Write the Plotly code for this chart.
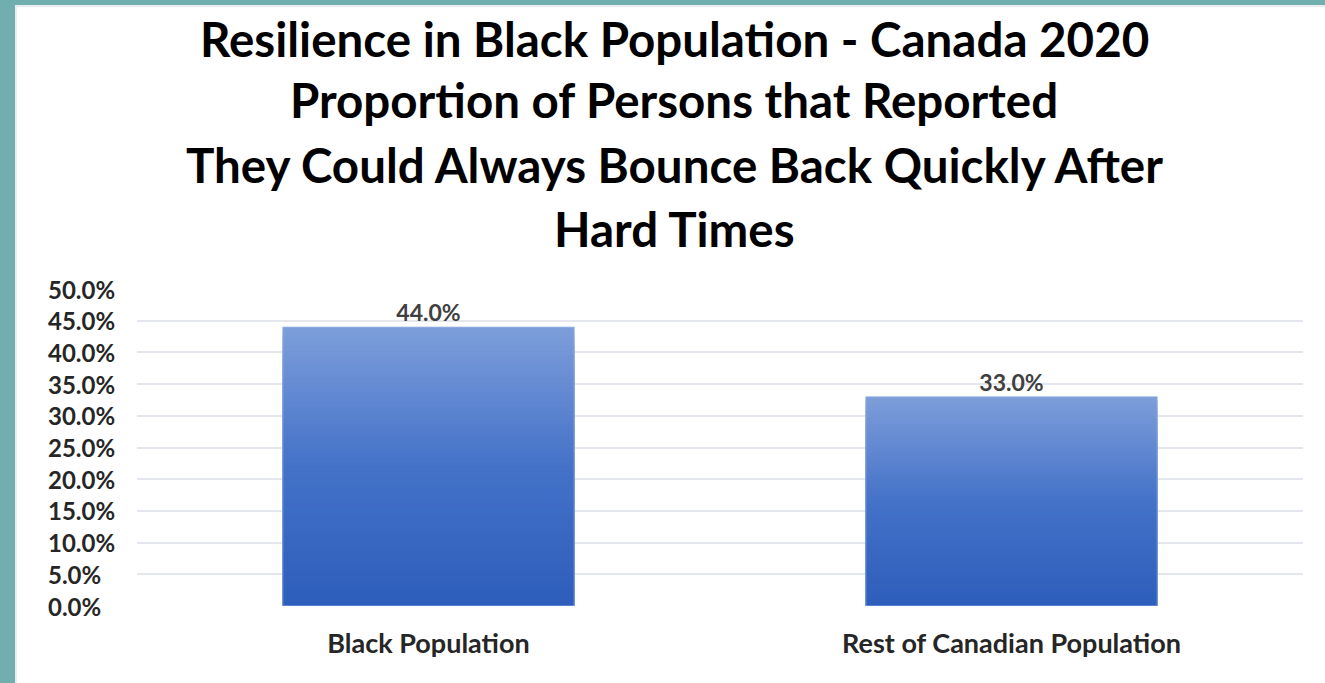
import plotly.graph_objects as go

# ---- data ----
categories = ["Black Population", "Rest of Canadian Population"]
values = [44.0, 33.0]
tick_values = [0, 5, 10, 15, 20, 25, 30, 35, 40, 45, 50]
tick_labels = [f"{v:.1f}%" for v in tick_values]
title_lines = [
    "Resilience in Black Population - Canada 2020",
    "Proportion of Persons that Reported",
    "They Could Always Bounce Back Quickly After",
    "Hard Times",
]

# ---- layout geometry (pixels) ----
W, H = 1325, 683
L, R, T, B = 137, 22, 289, 77
PW, PH = W - L - R, H - T - B

def px_x(p):
    return (p - L) / PW

def px_y(p):
    return (H - B - p) / PH

FONT = "Lato"
TEXT_COLOR = "#262626"

# gradient colours (top -> bottom)
stops = [(0.0, (124, 157, 218)), (0.5, (68, 114, 200)), (1.0, (46, 94, 188))]

def grad(t):
    for (t0, c0), (t1, c1) in zip(stops[:-1], stops[1:]):
        if t0 <= t <= t1:
            f = (t - t0) / (t1 - t0)
            return "rgb(%d,%d,%d)" % tuple(round(a + (b - a) * f) for a, b in zip(c0, c1))
    return "rgb(%d,%d,%d)" % stops[-1][1]

fig = go.Figure()
N = 60
for k in range(N):
    frac = 1 - k / N          # height fraction of this overlay bar
    t = k / (N - 1)           # 0 at top -> 1 at bottom
    fig.add_trace(go.Bar(
        x=categories,
        y=[v * frac for v in values],
        marker=dict(color=grad(t), line=dict(width=0)),
        width=0.5,
        hoverinfo="skip",
        showlegend=False,
    ))

# light outline around bars
fig.add_trace(go.Bar(
    x=categories, y=values, width=0.5,
    marker=dict(color="rgba(0,0,0,0)", line=dict(width=1, color="rgba(160,185,230,0.8)")),
    hoverinfo="skip", showlegend=False,
))

# data labels
fig.add_trace(go.Scatter(
    x=categories, y=values, mode="text",
    text=[f"{v:.1f}%" for v in values],
    textposition="top center",
    textfont=dict(family=FONT, size=23, color="#404040", weight="bold"),
    hoverinfo="skip", showlegend=False,
))

annotations = []
# title lines
title_centers = [38, 100, 164, 228]
for line, yc in zip(title_lines, title_centers):
    annotations.append(dict(
        text=line, xref="paper", yref="paper",
        x=px_x(674), y=px_y(yc), xanchor="center", yanchor="middle",
        showarrow=False,
        font=dict(family=FONT, size=47.5, color="#000000", weight="bold"),
    ))
# y tick labels, left aligned
for v, lab in zip(tick_values, tick_labels):
    annotations.append(dict(
        text=lab, xref="paper", yref="y",
        x=px_x(46), y=v, xanchor="left", yanchor="middle",
        showarrow=False,
        font=dict(family=FONT, size=24, color=TEXT_COLOR, weight="bold"),
    ))

shapes = [
    # teal frame left
    dict(type="rect", xref="paper", yref="paper",
         x0=px_x(0), x1=px_x(15), y0=px_y(H), y1=px_y(0),
         fillcolor="#70AEB0", line=dict(width=0), layer="above"),
    # teal frame top
    dict(type="rect", xref="paper", yref="paper",
         x0=px_x(0), x1=px_x(W), y0=px_y(5), y1=px_y(0),
         fillcolor="#70AEB0", line=dict(width=0), layer="above"),
    # faint shadows
    dict(type="rect", xref="paper", yref="paper",
         x0=px_x(15), x1=px_x(W), y0=px_y(7), y1=px_y(5),
         fillcolor="#E9EEEE", line=dict(width=0), layer="above"),
    dict(type="rect", xref="paper", yref="paper",
         x0=px_x(15), x1=px_x(17), y0=px_y(H), y1=px_y(5),
         fillcolor="#E9EEEE", line=dict(width=0), layer="above"),
]

fig.update_layout(
    width=W, height=H,
    margin=dict(l=L, r=R, t=T, b=B, pad=0),
    paper_bgcolor="white", plot_bgcolor="white",
    barmode="overlay",
    bargap=0.5,
    showlegend=False,
    annotations=annotations,
    shapes=shapes,
    xaxis=dict(
        type="category",
        showgrid=False, zeroline=False, showline=False,
        ticks="outside", ticklen=14, tickcolor="rgba(0,0,0,0)",
        tickfont=dict(family=FONT, size=27, color=TEXT_COLOR, weight="bold"),
        fixedrange=True,
    ),
    yaxis=dict(
        range=[0, 50],
        tickvals=tick_values,
        showticklabels=False,
        showgrid=True, gridcolor="#E4E7ED", gridwidth=2,
        zeroline=False, showline=False,
        fixedrange=True,
    ),
)

fig.write_html("out.html", config={"displayModeBar": False})
